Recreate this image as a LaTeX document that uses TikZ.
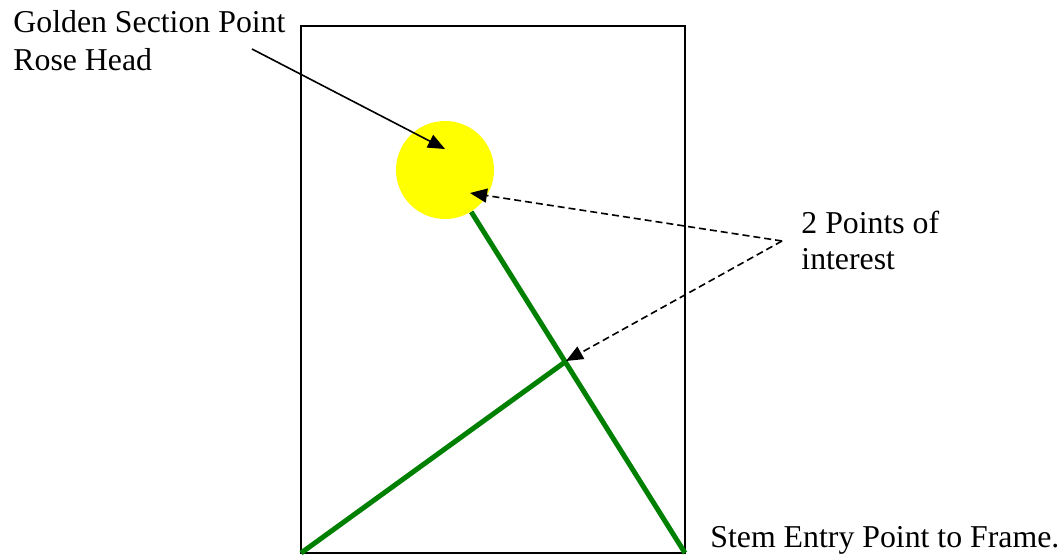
\documentclass[tikz,border=0pt]{standalone}
\usepackage{fontspec}
\setmainfont{Liberation Serif}
\usetikzlibrary{arrows.meta}
\definecolor{stemgreen}{RGB}{0,128,0}
\definecolor{roseyellow}{RGB}{255,255,0}
\begin{document}
\begin{tikzpicture}[x=0.5pt,y=-0.5pt,
  lbl/.style={anchor=base west,inner sep=0pt,font=\fontsize{15.9}{18.5}\selectfont},
  stem/.style={draw=stemgreen,line width=2.5pt},
  pointer/.style={draw=black,line width=0.8pt,-{Triangle[length=8.5pt,width=7pt]}},
  dpointer/.style={pointer,dash pattern=on 3.5pt off 2pt}]
\useasboundingbox (0,0) rectangle (1063,556);
\coordinate (tl) at (301,26);
\coordinate (bl) at (301,553);
\coordinate (br) at (685,553);
\draw[line width=1pt] (tl) rectangle (br);
\node[circle,fill=roseyellow,minimum size=49pt,inner sep=0pt] (rose) at (445,170) {};
\coordinate (mid) at (565,362);
\draw[stem] (br) -- (rose);
\draw[stem] (bl) -- (mid);
% labels
\node[lbl] (gs) at (13,33) {Golden Section Point};
\node[lbl] (rh) at (13,70) {Rose Head};
\node[lbl] (p2) at (801,233) {2 Points of};
\node[lbl] (pi) at (801,269) {interest};
\node[lbl] (se) at (710,547) {Stem Entry Point to Frame.};
% pointers
\coordinate (gsfrom) at (252,49);
\coordinate (gsto) at (445,149);
\draw[pointer] (gsfrom) -- (gsto);
\coordinate (pfrom) at (782,241);
\coordinate (ptoa) at (470,193);
\coordinate (ptob) at (566,361);
\draw[dpointer] (pfrom) -- (ptoa);
\draw[dpointer] (pfrom) -- (ptob);
\end{tikzpicture}
\end{document}
